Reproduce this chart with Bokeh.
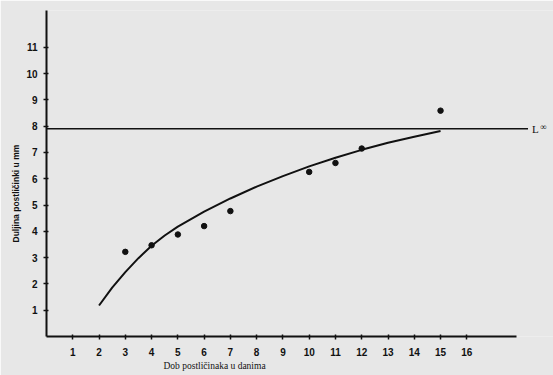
from bokeh.plotting import figure
from bokeh.models import Range1d, FixedTicker, Label, Title
from bokeh.embed import file_html
from bokeh.resources import INLINE

# ---- data ----
age_days = [3, 4, 5, 6, 7, 10, 11, 12, 15]
length_mm = [3.22, 3.47, 3.88, 4.2, 4.77, 6.26, 6.6, 7.15, 8.59]

curve_age = [2, 2.5, 3, 3.5, 4, 4.5, 5, 6, 7, 8, 9, 10, 11, 12, 13, 14, 15]
curve_len = [1.18, 1.86, 2.45, 2.98, 3.45, 3.84, 4.18, 4.75, 5.25, 5.7, 6.1,
             6.47, 6.8, 7.1, 7.37, 7.6, 7.82]

l_inf = 7.9
l_inf_end = 18.33

x_ticks = list(range(1, 17))
y_ticks = list(range(1, 12))

x_title = "Dob postličinaka u danima"
y_title = "Duljina postličinki u mm"

paper = "#e7e7e7"
ink = "#111111"

p = figure(width=553, height=375, output_backend="svg", toolbar_location=None,
           x_range=Range1d(0, 19.3), y_range=Range1d(0, 12.4))
p.min_border_left = 46
p.min_border_top = 10
p.min_border_bottom = 39
p.min_border_right = 0
p.background_fill_color = paper
p.border_fill_color = paper
p.outline_line_color = None
p.grid.visible = False

p.xaxis.ticker = FixedTicker(ticks=x_ticks)
p.yaxis.ticker = FixedTicker(ticks=y_ticks)
p.xaxis.bounds = (0, 17.9)
for ax in (p.xaxis, p.yaxis):
    ax.axis_line_color = ink
    ax.axis_line_width = 2
    ax.major_tick_line_color = ink
    ax.major_tick_line_width = 1.5
    ax.minor_tick_line_color = None
    ax.major_tick_in = 2
    ax.major_tick_out = 3
    ax.major_label_text_font = "Liberation Sans"
    ax.major_label_text_font_style = "bold"
    ax.major_label_text_font_size = "10px"
    ax.major_label_text_color = ink
p.xaxis.major_label_standoff = 8
p.yaxis.major_label_standoff = 6

# axis titles as side-panel titles (placed off-centre like the original)
p.add_layout(Title(text=x_title, align="left", offset=117, standoff=0,
                   text_font="Liberation Serif", text_font_size="9.5px",
                   text_font_style="normal", text_color=ink), "below")
p.add_layout(Title(text=y_title, align="left", offset=94, standoff=6,
                   text_font="Liberation Sans", text_font_size="8.5px",
                   text_font_style="bold", text_color=ink), "left")

# L infinity line
p.segment(x0=[0], y0=[l_inf], x1=[l_inf_end], y1=[l_inf], line_color=ink, line_width=1.5)
p.add_layout(Label(x=l_inf_end + 0.15, y=l_inf, text="L", text_font="Liberation Serif",
                   text_font_size="11px", text_baseline="middle", text_color=ink))
p.add_layout(Label(x=l_inf_end + 0.47, y=l_inf + 0.08, text="∞", text_font="Liberation Serif",
                   text_font_size="9px", text_baseline="middle", text_color=ink))

# growth curve
p.line(curve_age, curve_len, line_color=ink, line_width=2)

# observations
p.scatter(age_days, length_mm, size=5.5, color=ink)

html = file_html(p, INLINE)
html = html.replace("<body>", '<body style="margin:0;overflow:hidden;background:%s">' % paper, 1)
open("out.html", "w").write(html)
